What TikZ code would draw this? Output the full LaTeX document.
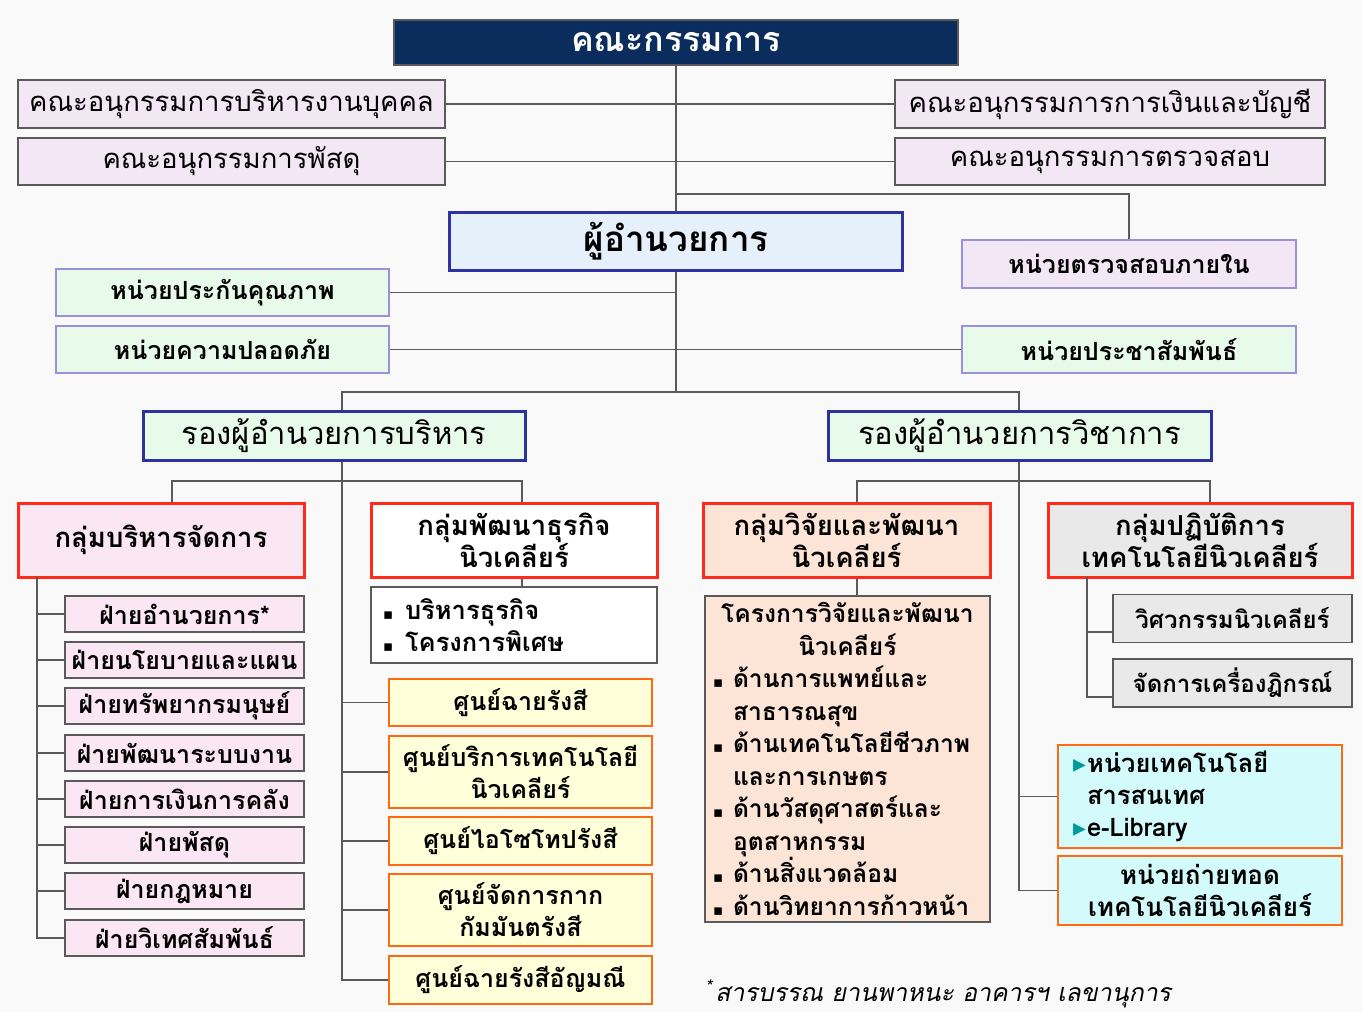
\documentclass[tikz,border=0pt]{standalone}
\usepackage{fontspec}
\setmainfont[Script=Thai]{Loma}
\newfontfamily\thaiit[Script=Thai,FakeSlant=0.2]{Loma}
\newfontfamily\symfont{DejaVu Sans}
\newcommand{\sqbul}{{\symfont\fontsize{15}{15}\selectfont ▪}}
\newcommand{\tribul}{{\symfont\color{teal}▸}}
\definecolor{bg}{HTML}{F9F9F9}
\definecolor{navy}{HTML}{0B2D5E}
\definecolor{lav}{HTML}{F3E6F5}
\definecolor{lavline}{HTML}{9A90DC}
\definecolor{skyfill}{HTML}{E6F0FB}
\definecolor{royal}{HTML}{2E32A0}
\definecolor{mint}{HTML}{E8FAEA}
\definecolor{pinkfill}{HTML}{FBE6F3}
\definecolor{alarm}{HTML}{FF2A1A}
\definecolor{cream}{HTML}{FFFFD9}
\definecolor{amber}{HTML}{FF6A10}
\definecolor{peach}{HTML}{FCE4D6}
\definecolor{ash}{HTML}{E9E9E9}
\definecolor{aqua}{HTML}{D4FBFB}
\definecolor{teal}{HTML}{009A9A}
\definecolor{wire}{HTML}{5A5A5A}
\begin{document}
\begin{tikzpicture}[x=1pt,y=-1pt,
    conn/.style={draw=wire,line width=1.6},
    box/.style={draw=wire,line width=1.5,inner sep=0,align=center,font=\fontsize{25}{31}\selectfont\bfseries},
    cmte/.style={box,fill=lav,minimum width=#1,font=\fontsize{27.5}{32}\selectfont},
    unit/.style={box,draw=lavline,fill=mint,minimum width=333,minimum height=47},
    deputy/.style={box,draw=royal,line width=3,fill=mint,minimum width=382,minimum height=49,font=\fontsize{31}{36}\selectfont},
    group/.style={box,draw=alarm,line width=3,minimum width=#1,minimum height=74,font=\fontsize{27.5}{32}\selectfont\bfseries},
    dept/.style={box,fill=pinkfill,minimum width=239,minimum height=36,font=\fontsize{25}{28}\selectfont\bfseries},
    centre/.style={box,draw=amber,line width=2.5,fill=cream,minimum width=263,minimum height=#1,font=\fontsize{25}{32}\selectfont\bfseries},
    opsub/.style={box,fill=ash,minimum width=239,minimum height=48,font=\fontsize{24}{28}\selectfont\bfseries},
    info/.style={box,draw=amber,line width=2.5,fill=aqua,minimum width=284,minimum height=#1,font=\fontsize{26}{32}\selectfont\bfseries}]
\fill[bg] (0,0) rectangle (1362,1012);
\useasboundingbox (0,0) rectangle (1362,1012);

\node[box,fill=navy,text=white,minimum width=564,minimum height=45,font=\fontsize{34}{38}\selectfont\bfseries] (board) at (676,42.5) {คณะกรรมการ};
\node[cmte=427,minimum height=48] (pers) at (231.5,104) {คณะอนุกรรมการบริหารงานบุคคล};
\node[cmte=427,minimum height=47] (supp) at (231.5,161.5) {คณะอนุกรรมการพัสดุ};
\node[cmte=430,minimum height=48] (fin) at (1110,104) {คณะอนุกรรมการการเงินและบัญชี};
\node[cmte=430,minimum height=47] (aud) at (1110,161.5) {คณะอนุกรรมการตรวจสอบ};

\node[box,draw=royal,line width=3,fill=skyfill,minimum width=453,minimum height=58,font=\fontsize{35}{40}\selectfont\bfseries] (dir) at (676,241) {ผู้อำนวยการ};
\node[unit,fill=lav,minimum width=334,minimum height=48] (intaud) at (1129,264) {หน่วยตรวจสอบภายใน};
\node[unit] (qa) at (222.5,292.5) {หน่วยประกันคุณภาพ};
\node[unit] (safe) at (222.5,349.5) {หน่วยความปลอดภัย};
\node[unit,minimum width=334] (pr) at (1129,349.5) {หน่วยประชาสัมพันธ์};

\node[deputy] (dvA) at (334,435.5) {รองผู้อำนวยการบริหาร};
\node[deputy,minimum width=383] (dvB) at (1019.5,435.5) {รองผู้อำนวยการวิชาการ};

\node[group=286,fill=pinkfill] (gMgmt) at (161,540) {กลุ่มบริหารจัดการ};
\node[group=286,fill=white] (gBiz) at (514,540) {กลุ่มพัฒนาธุรกิจ\\นิวเคลียร์};
\node[group=287,fill=peach] (gRes) at (846.5,540) {กลุ่มวิจัยและพัฒนา\\นิวเคลียร์};
\node[group=304,fill=ash] (gOps) at (1200,540) {กลุ่มปฏิบัติการ\\เทคโนโลยีนิวเคลียร์};

\node[box,fill=white,minimum width=286,minimum height=76,text width=262,align=left,font=\fontsize{25.5}{32}\selectfont\bfseries] (bizList) at (514,625)
  {\makebox[22pt][l]{\sqbul}บริหารธุรกิจ\\\makebox[22pt][l]{\sqbul}โครงการพิเศษ};

\node[dept] (f1) at (184.5,614) {ฝ่ายอำนวยการ*};
\node[dept] (f2) at (184.5,660) {ฝ่ายนโยบายและแผน};
\node[dept] (f3) at (184.5,706) {ฝ่ายทรัพยากรมนุษย์};
\node[dept] (f4) at (184.5,753) {ฝ่ายพัฒนาระบบงาน};
\node[dept] (f5) at (184.5,799) {ฝ่ายการเงินการคลัง};
\node[dept] (f6) at (184.5,845) {ฝ่ายพัสดุ};
\node[dept] (f7) at (184.5,891) {ฝ่ายกฎหมาย};
\node[dept] (f8) at (184.5,938) {ฝ่ายวิเทศสัมพันธ์};

\node[centre=47] (ys1) at (520.5,702.5) {ศูนย์ฉายรังสี};
\node[centre=72] (ys2) at (520.5,772) {ศูนย์บริการเทคโนโลยี\\นิวเคลียร์};
\node[centre=48] (ys3) at (520.5,841) {ศูนย์ไอโซโทปรังสี};
\node[centre=72] (ys4) at (520.5,910) {ศูนย์จัดการกาก\\กัมมันตรังสี};
\node[centre=48] (ys5) at (520.5,980) {ศูนย์ฉายรังสีอัญมณี};

\node[box,fill=peach,minimum width=285,minimum height=326,text width=269,align=left,font=\fontsize{24.6}{32.5}\selectfont\bfseries] (resList) at (847.5,759)
  {\makebox[269pt]{โครงการวิจัยและพัฒนา}\\\makebox[269pt]{นิวเคลียร์}\\
   \makebox[20pt][l]{\sqbul}ด้านการแพทย์และ\\\hspace*{20pt}สาธารณสุข\\
   \makebox[20pt][l]{\sqbul}ด้านเทคโนโลยีชีวภาพ\\\hspace*{20pt}และการเกษตร\\
   \makebox[20pt][l]{\sqbul}ด้านวัสดุศาสตร์และ\\\hspace*{20pt}อุตสาหกรรม\\
   \makebox[20pt][l]{\sqbul}ด้านสิ่งแวดล้อม\\
   \makebox[20pt][l]{\sqbul}ด้านวิทยาการก้าวหน้า};

\node[opsub] (o1) at (1232.5,618.5) {วิศวกรรมนิวเคลียร์};
\node[opsub] (o2) at (1232.5,683) {จัดการเครื่องฎิกรณ์};

\node[info=103,text width=254,align=left,font=\fontsize{25.5}{32}\selectfont\bfseries] (c1) at (1200,796.5)
  {\makebox[14pt][l]{\tribul}หน่วยเทคโนโลยี\\\hspace*{14pt}สารสนเทศ\\\makebox[14pt][l]{\tribul}e-Library};
\node[info=69] (c2) at (1200,890.5) {หน่วยถ่ายทอด\\เทคโนโลยีนิวเคลียร์};

\node[anchor=west,inner sep=0,font=\fontsize{24.8}{28}\selectfont\thaiit] (note) at (705,994) {\textsuperscript{*}\hspace{3pt}สารบรรณ ยานพาหนะ อาคารฯ เลขานุการ};

\coordinate (hub) at (676,392);
\coordinate (j1) at (676,194);
\coordinate (spA) at (342,392);
\coordinate (spB) at (1019,392);
\coordinate (dropM) at (172,481);
\coordinate (dropB) at (522,481);
\coordinate (dropR) at (857,481);
\coordinate (dropO) at (1210,481);
\coordinate (spM) at (37,577);
\coordinate (spO) at (1087,577);

\draw[conn] (board) -- (dir);
\draw[conn] (dir.south) -- (hub);
\draw[conn] (pers) -- (fin);
\draw[conn] (supp) -- (aud);
\draw[conn] (j1) -| (intaud.north);
\draw[conn] (qa.east) -- (qa.east -| hub);
\draw[conn] (safe) -- (pr);
\draw[conn] (spA |- dvA.north) -- (spA) -- (spB) -- (spB |- dvB.north);

\draw[conn] (spA |- dvA.south) |- (ys5.west);
\foreach \i in {1,...,4} \draw[conn] (spA |- ys\i.west) -- (ys\i.west);
\draw[conn] (dropM |- gMgmt.north) -- (dropM) -- (dropB) -- (dropB |- gBiz.north);
\draw[conn] (dropB |- gBiz.south) -- (dropB |- bizList.north);
\draw[conn] (spM) |- (f8.west);
\foreach \i in {1,...,7} \draw[conn] (spM |- f\i.west) -- (f\i.west);

\draw[conn] (spB |- dvB.south) |- (c2.west);
\draw[conn] (spB |- c1.west) -- (c1.west);
\draw[conn] (dropR |- gRes.north) -- (dropR) -- (dropO) -- (dropO |- gOps.north);
\draw[conn] (dropR |- gRes.south) -- (dropR |- resList.north);
\draw[conn] (spO) |- ([yshift=-14pt]o2.west);
\draw[conn] (spO |- o1.west) ++(0,13.5) -- ([yshift=-13.5pt]o1.west);
\end{tikzpicture}
\end{document}
